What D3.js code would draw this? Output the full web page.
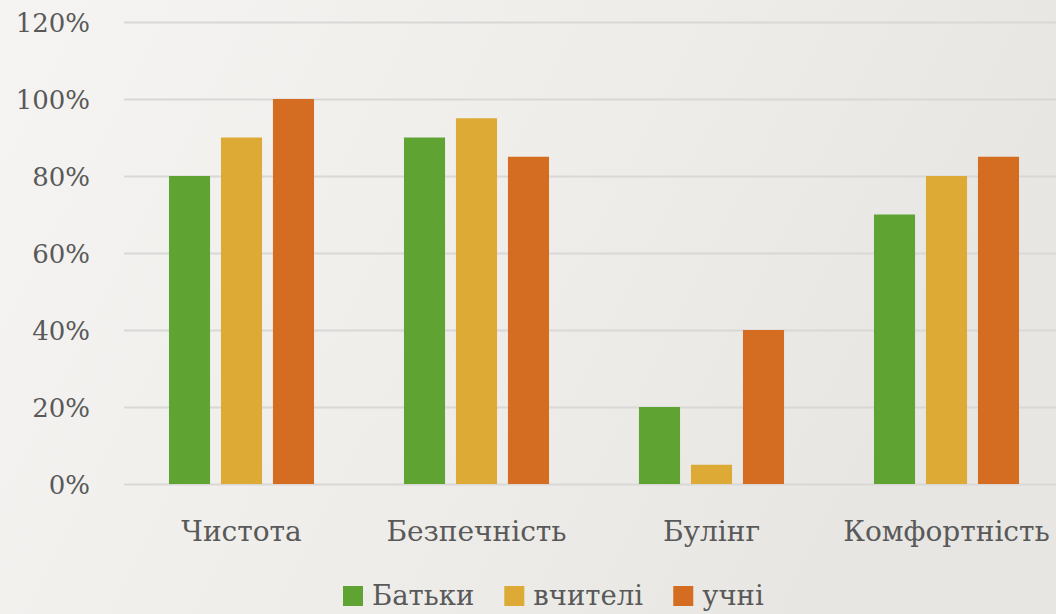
<!DOCTYPE html>
<html><head><meta charset="utf-8">
<script src="https://cdn.jsdelivr.net/npm/d3@7"></script>
<style>
html,body{margin:0;padding:0;overflow:hidden;}
svg{display:block;}
</style></head>
<body>
<svg id="chart" width="1056" height="614"></svg>
<script>
const categories = ["Чистота", "Безпечність", "Булінг", "Комфортність"];
const seriesNames = ["Батьки", "вчителі", "учні"];
const seriesColors = ["#5fa433", "#dcaa35", "#d46c22"];
const batky = [0.80, 0.90, 0.20, 0.70];
const vchyteli = [0.90, 0.95, 0.05, 0.80];
const uchni = [1.00, 0.85, 0.40, 0.85];
const yTicks = [0, 0.2, 0.4, 0.6, 0.8, 1.0, 1.2];

const FONT = "DejaVu Serif";
const seriesValues = [batky, vchyteli, uchni];
const W = 1056, H = 614;
const svg = d3.select("#chart");

const defs = svg.append("defs");
const grad = defs.append("linearGradient").attr("id","bg").attr("x1","0").attr("y1","0").attr("x2","1").attr("y2","0.3");
grad.append("stop").attr("offset","0").attr("stop-color","#f5f4f2");
grad.append("stop").attr("offset","0.5").attr("stop-color","#efeeeb");
grad.append("stop").attr("offset","1").attr("stop-color","#e7e6e2");
svg.append("rect").attr("width",W).attr("height",H).attr("fill","url(#bg)");

const x0 = d3.scaleBand().domain(categories).range([124, 1064]).padding(0);
const x1 = d3.scaleBand().domain(seriesNames).range([0, x0.bandwidth()]).paddingInner(0.21).paddingOuter(0.865);
const y = d3.scaleLinear().domain([0, 1.2]).range([484, 22]);

const yAxis = d3.axisLeft(y).tickValues(yTicks).tickSize(-(1064-124)).tickFormat(d3.format(".0%")).tickPadding(34);
const gy = svg.append("g").attr("transform","translate(124,0)").call(yAxis)
  .attr("font-family", FONT);
gy.select(".domain").remove();
gy.selectAll(".tick line").attr("stroke","#d9d8d6").attr("stroke-width",2);
gy.selectAll(".tick text").attr("font-size","26px").attr("fill","#595959").attr("dy","0.38em").style("font-family", FONT);

const groups = svg.append("g").selectAll("g").data(categories).join("g")
  .attr("transform", d => `translate(${x0(d)},0)`);
groups.selectAll("rect").data((c,i) => seriesNames.map((s,j) => ({s, v: seriesValues[j][i], c: seriesColors[j]})))
  .join("rect")
  .attr("x", d => x1(d.s))
  .attr("width", x1.bandwidth())
  .attr("y", d => y(d.v))
  .attr("height", d => y(0) - y(d.v))
  .attr("fill", d => d.c);

const xAxis = d3.axisBottom(x0).tickSize(0).tickPadding(0);
const gx = svg.append("g").attr("transform","translate(0,484)").call(xAxis).attr("font-family", FONT);
gx.select(".domain").remove();
gx.selectAll(".tick text").attr("font-size","28px").attr("fill","#595959").attr("y",57).attr("dy","0").style("font-family", FONT);

const legend = svg.append("g");
let lx = 0;
const lg = legend.selectAll("g").data(seriesNames).join("g");
lg.append("rect").attr("width",20).attr("height",20).attr("y",-20).attr("fill",(d,i)=>seriesColors[i]);
lg.append("text").attr("x",29).attr("y",-1).attr("font-size","27.5px").attr("fill","#595959").style("font-family", FONT).text(d=>d);
lg.each(function(){
  const w = this.getBBox().width;
  d3.select(this).attr("transform",`translate(${lx},0)`);
  lx += w + 30;
});
legend.attr("transform",`translate(${343},606)`);
</script>
</body></html>
